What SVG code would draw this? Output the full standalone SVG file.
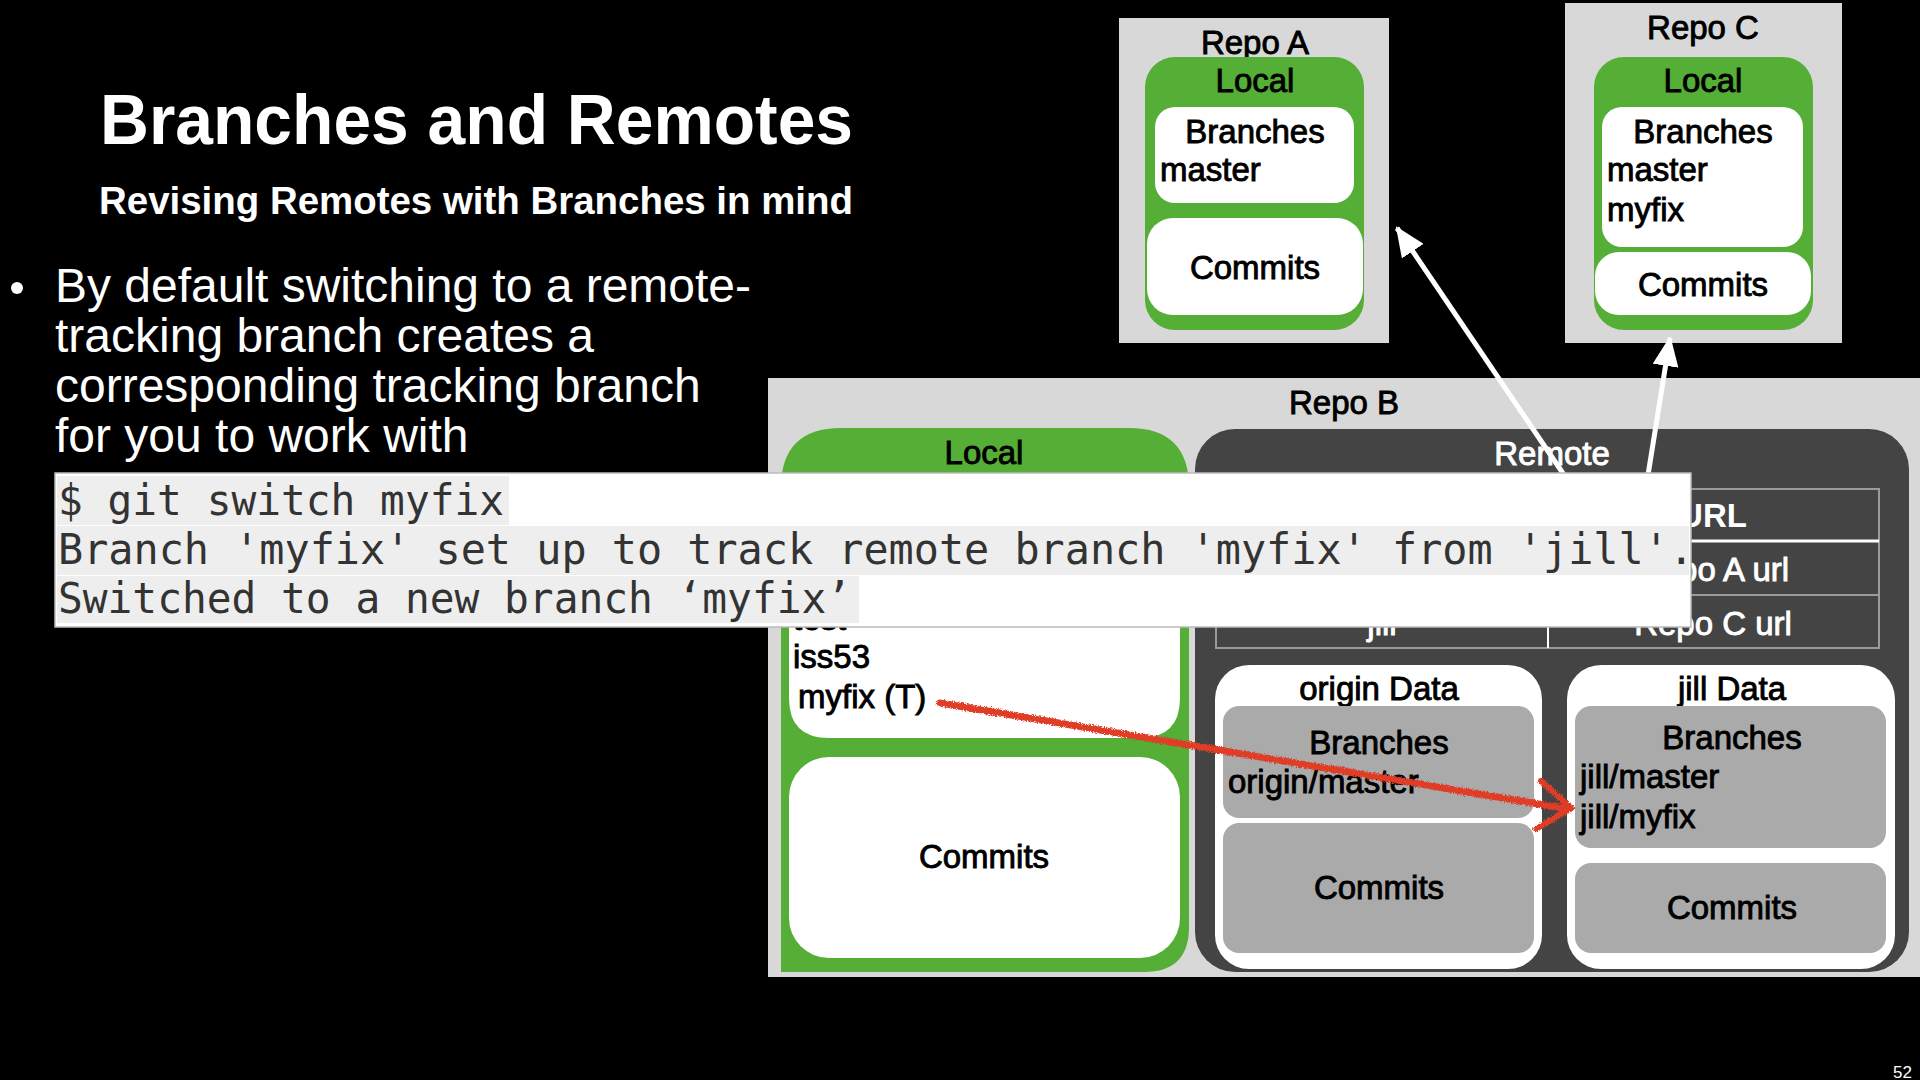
<svg xmlns="http://www.w3.org/2000/svg" width="1920" height="1080" viewBox="0 0 1920 1080">
  <style>
    .lbl { font-family: "Liberation Sans", Arial, sans-serif; font-size: 33px; fill: #000; stroke: #000; stroke-width: 0.9px; }
    .mid { text-anchor: middle; }
    .wt { fill: #fff; stroke: #fff; }
    .bold { font-weight: bold; stroke-width: 0; }
    .repo { fill: #d8d8d8; }
    .local { fill: #55ae35; }
    .card { fill: #fff; }
    .remote { fill: #444; }
    .slot { fill: #aaa; }
    .head { font-family: "Liberation Sans", Arial, sans-serif; fill: #fff; font-weight: bold; }
    .body { font-family: "Liberation Sans", Arial, sans-serif; fill: #fff; font-size: 48px; }
    .term { font-family: "DejaVu Sans Mono", "Liberation Mono", monospace; font-size: 42px; fill: #333; }
    .hl { fill: #eeeeee; }
    .link { stroke: #fff; stroke-width: 5; fill: none; }
    .scrawl { stroke: #e03c28; fill: none; stroke-linecap: round; stroke-linejoin: round; }
  </style>
  <defs>
    <marker id="tip" markerUnits="userSpaceOnUse" markerWidth="30" markerHeight="26" viewBox="0 0 30 26" refX="28" refY="13" orient="auto">
      <path d="M0,0 L30,13 L0,26 Z" fill="#fff"/>
    </marker>
    <filter id="rough" filterUnits="userSpaceOnUse" x="900" y="670" width="700" height="180">
      <feTurbulence type="fractalNoise" baseFrequency="0.9" numOctaves="2" seed="3" result="noise"/>
      <feDisplacementMap in="SourceGraphic" in2="noise" scale="5" xChannelSelector="R" yChannelSelector="G"/>
    </filter>
  </defs>

  <rect width="1920" height="1080" fill="#000"/>

  <!-- slide heading and bullet -->
  <g id="heading">
    <text class="head" x="100" y="144" font-size="71" textLength="753" lengthAdjust="spacingAndGlyphs">Branches and Remotes</text>
    <text class="head" x="99" y="214" font-size="39" textLength="754" lengthAdjust="spacingAndGlyphs">Revising Remotes with Branches in mind</text>
  </g>
  <g id="bullet">
    <circle cx="17" cy="288" r="6" fill="#fff"/>
    <text class="body" x="55" y="302" textLength="696" lengthAdjust="spacingAndGlyphs">By default switching to a remote-</text>
    <text class="body" x="55" y="352">tracking branch creates a</text>
    <text class="body" x="55" y="402">corresponding tracking branch</text>
    <text class="body" x="55" y="452">for you to work with</text>
  </g>

  <!-- Repo A -->
  <g id="repo-a">
    <rect class="repo" x="1119" y="18" width="270" height="325"/>
    <text class="lbl mid" x="1255" y="54">Repo A</text>
    <rect class="local" x="1145" y="57" width="219" height="273" rx="30"/>
    <text class="lbl mid" x="1255" y="92">Local</text>
    <rect class="card" x="1155" y="107" width="199" height="96" rx="20"/>
    <text class="lbl mid" x="1255" y="143">Branches</text>
    <text class="lbl" x="1160" y="181">master</text>
    <rect class="card" x="1147" y="218" width="216" height="97" rx="26"/>
    <text class="lbl mid" x="1255" y="279">Commits</text>
  </g>

  <!-- Repo C -->
  <g id="repo-c">
    <rect class="repo" x="1565" y="3" width="277" height="340"/>
    <text class="lbl mid" x="1703" y="39">Repo C</text>
    <rect class="local" x="1594" y="57" width="219" height="273" rx="30"/>
    <text class="lbl mid" x="1703" y="92">Local</text>
    <rect class="card" x="1602" y="107" width="201" height="140" rx="20"/>
    <text class="lbl mid" x="1703" y="143">Branches</text>
    <text class="lbl" x="1607" y="181">master</text>
    <text class="lbl" x="1607" y="221">myfix</text>
    <rect class="card" x="1595" y="252" width="216" height="63" rx="24"/>
    <text class="lbl mid" x="1703" y="296">Commits</text>
  </g>

  <!-- Repo B -->
  <g id="repo-b">
    <rect class="repo" x="768" y="378" width="1152" height="599"/>
    <text class="lbl mid" x="1344" y="414">Repo B</text>

    <g id="repo-b-local">
      <path class="local" d="M781,972 L781,488 Q781,428 841,428 L1129,428 Q1189,428 1189,488 L1189,927 Q1189,972 1144,972 Z"/>
      <text class="lbl mid" x="984" y="464">Local</text>
      <path class="card" d="M789,505 Q789,485 809,485 L1160,485 Q1180,485 1180,505 L1180,698 Q1180,738 1140,738 L829,738 Q789,738 789,698 Z"/>
      <text class="lbl" x="793" y="630">test</text>
      <text class="lbl" x="793" y="668">iss53</text>
      <text class="lbl" x="798" y="708">myfix (T)</text>
      <rect class="card" x="789" y="757" width="391" height="201" rx="40"/>
      <text class="lbl mid" x="984" y="868">Commits</text>
    </g>

    <g id="repo-b-remote">
      <rect class="remote" x="1195" y="429" width="714" height="543" rx="40"/>
      <text class="lbl mid wt" x="1552" y="465">Remote</text>

      <g id="url-table">
        <rect x="1216" y="489" width="663" height="159" fill="none" stroke="#9a9a9a" stroke-width="2"/>
        <line x1="1216" y1="541" x2="1879" y2="541" stroke="#fff" stroke-width="3"/>
        <line x1="1216" y1="595" x2="1879" y2="595" stroke="#9a9a9a" stroke-width="2"/>
        <line x1="1548" y1="489" x2="1548" y2="648" stroke="#fff" stroke-width="2"/>
        <text class="lbl mid wt bold" x="1713" y="527" font-size="32">URL</text>
        <text class="lbl mid wt" x="1713" y="581" font-size="32">Repo A url</text>
        <text class="lbl mid wt" x="1382" y="635" font-size="32">jill</text>
        <text class="lbl mid wt" x="1713" y="635" font-size="32">Repo C url</text>
      </g>

      <g id="origin-data">
        <rect class="card" x="1215" y="665" width="327" height="304" rx="34"/>
        <text class="lbl mid" x="1379" y="700">origin Data</text>
        <rect class="slot" x="1223" y="706" width="311" height="112" rx="16"/>
        <text class="lbl mid" x="1379" y="754">Branches</text>
        <text class="lbl" x="1228" y="793">origin/master</text>
        <rect class="slot" x="1223" y="823" width="311" height="130" rx="16"/>
        <text class="lbl mid" x="1379" y="899">Commits</text>
      </g>

      <g id="jill-data">
        <rect class="card" x="1567" y="665" width="328" height="304" rx="34"/>
        <text class="lbl mid" x="1732" y="700">jill Data</text>
        <rect class="slot" x="1575" y="706" width="311" height="142" rx="16"/>
        <text class="lbl mid" x="1732" y="749">Branches</text>
        <text class="lbl" x="1580" y="788">jill/master</text>
        <text class="lbl" x="1580" y="828">jill/myfix</text>
        <rect class="slot" x="1575" y="863" width="311" height="90" rx="16"/>
        <text class="lbl mid" x="1732" y="919">Commits</text>
      </g>
    </g>
  </g>

  <!-- remote links from Repo B to the other repositories -->
  <g id="connectors">
    <line class="link" x1="1581" y1="500" x2="1397" y2="228" marker-end="url(#tip)"/>
    <line class="link" x1="1644" y1="500" x2="1670" y2="338" marker-end="url(#tip)"/>
  </g>

  <!-- terminal output -->
  <g id="terminal">
    <rect x="55" y="473" width="1636" height="154" fill="#fff" stroke="#bbb" stroke-width="1.5"/>
    <rect class="hl" x="57" y="476" width="452" height="49"/>
    <rect class="hl" x="57" y="526" width="1632" height="49"/>
    <rect class="hl" x="57" y="576" width="802" height="47"/>
    <text class="term" x="58" y="515" textLength="446" lengthAdjust="spacingAndGlyphs">$ git switch myfix</text>
    <text class="term" x="58" y="564" textLength="1636" lengthAdjust="spacingAndGlyphs">Branch 'myfix' set up to track remote branch 'myfix' from 'jill'.</text>
    <text class="term" x="58" y="613" textLength="793" lengthAdjust="spacingAndGlyphs">Switched to a new branch ‘myfix’</text>
  </g>

  <!-- hand-drawn tracking arrow -->
  <g id="tracking-arrow" filter="url(#rough)">
    <path class="scrawl" d="M940,703 L1562,808" stroke-width="7"/>
    <path class="scrawl" d="M1541,781 L1571,808 L1536,829" stroke-width="6"/>
  </g>

  <text x="1912" y="1078" text-anchor="end" font-family="Liberation Sans, Arial, sans-serif" font-size="17" fill="#fff">52</text>
</svg>
